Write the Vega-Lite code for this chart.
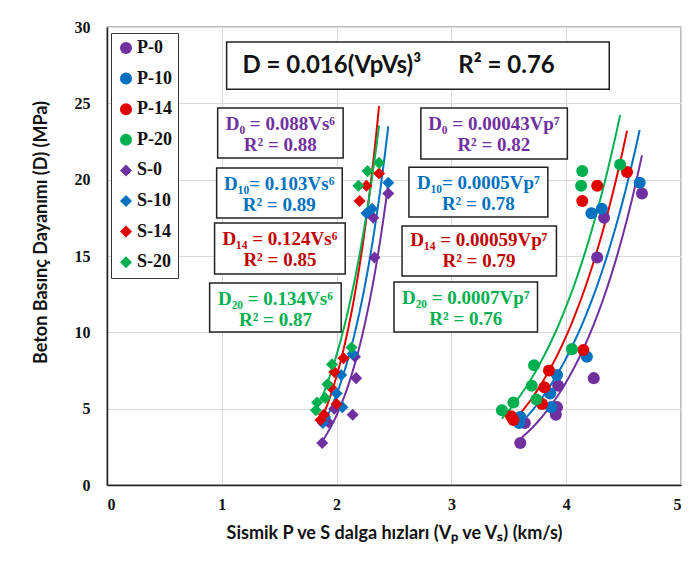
{
  "$schema": "https://vega.github.io/schema/vega-lite/v6.json",
  "width": 574,
  "height": 458,
  "autosize": "none",
  "padding": {"left": 107, "top": 27, "right": 13, "bottom": 82},
  "background": "white",
  "config": {
    "view": {"stroke": "#a6a6a6", "strokeWidth": 1.5},
    "axis": {
      "grid": true,
      "gridColor": "#d9d9d9",
      "gridWidth": 1,
      "ticks": false,
      "domainColor": "#222222",
      "domainWidth": 1.5,
      "labelFont": "Liberation Serif",
      "labelFontWeight": "bold",
      "labelFontSize": 16,
      "labelColor": "#111111",
      "titleFont": "Lato",
      "titleFontWeight": "bold",
      "titleFontSize": 18,
      "titleColor": "#111111"
    },
    "legend": {
      "orient": "none",
      "legendX": 4,
      "legendY": 6,
      "strokeColor": "#333333",
      "fillColor": "white",
      "padding": 6,
      "rowPadding": 12.6,
      "labelFont": "Liberation Serif",
      "labelFontWeight": "bold",
      "labelFontSize": 18,
      "labelColor": "#111111",
      "labelOffset": 2,
      "symbolStrokeWidth": 0
    }
  },
  "datasets": {
    "pts": [
      {"series": "P-0", "v": 3.60, "D": 2.75},
      {"series": "P-0", "v": 3.64, "D": 4.06},
      {"series": "P-0", "v": 3.91, "D": 4.6},
      {"series": "P-0", "v": 3.92, "D": 5.1},
      {"series": "P-0", "v": 3.93, "D": 6.5},
      {"series": "P-0", "v": 4.24, "D": 7.0},
      {"series": "P-0", "v": 4.27, "D": 14.9},
      {"series": "P-0", "v": 4.33, "D": 17.5},
      {"series": "P-0", "v": 4.66, "D": 19.1},
      {"series": "P-10", "v": 3.59, "D": 4.06},
      {"series": "P-10", "v": 3.60, "D": 4.45},
      {"series": "P-10", "v": 3.87, "D": 5.1},
      {"series": "P-10", "v": 3.86, "D": 6.0},
      {"series": "P-10", "v": 3.92, "D": 7.2},
      {"series": "P-10", "v": 4.18, "D": 8.4},
      {"series": "P-10", "v": 4.22, "D": 17.8},
      {"series": "P-10", "v": 4.31, "D": 18.1},
      {"series": "P-10", "v": 4.64, "D": 19.8},
      {"series": "P-14", "v": 3.54, "D": 4.26},
      {"series": "P-14", "v": 3.52, "D": 4.5},
      {"series": "P-14", "v": 3.79, "D": 5.3},
      {"series": "P-14", "v": 3.81, "D": 6.4},
      {"series": "P-14", "v": 3.85, "D": 7.5},
      {"series": "P-14", "v": 4.15, "D": 8.84},
      {"series": "P-14", "v": 4.14, "D": 18.6},
      {"series": "P-14", "v": 4.27, "D": 19.6},
      {"series": "P-14", "v": 4.53, "D": 20.5},
      {"series": "P-20", "v": 3.44, "D": 4.9},
      {"series": "P-20", "v": 3.54, "D": 5.4},
      {"series": "P-20", "v": 3.74, "D": 5.6},
      {"series": "P-20", "v": 3.70, "D": 6.5},
      {"series": "P-20", "v": 3.72, "D": 7.85},
      {"series": "P-20", "v": 4.05, "D": 8.9},
      {"series": "P-20", "v": 4.13, "D": 19.6},
      {"series": "P-20", "v": 4.14, "D": 20.56},
      {"series": "P-20", "v": 4.47, "D": 21.0},
      {"series": "S-0", "v": 1.875, "D": 2.75},
      {"series": "S-0", "v": 1.93, "D": 4.1},
      {"series": "S-0", "v": 2.14, "D": 4.6},
      {"series": "S-0", "v": 1.98, "D": 5.0},
      {"series": "S-0", "v": 2.17, "D": 7.0},
      {"series": "S-0", "v": 2.16, "D": 8.4},
      {"series": "S-0", "v": 2.33, "D": 14.9},
      {"series": "S-0", "v": 2.32, "D": 17.5},
      {"series": "S-0", "v": 2.45, "D": 19.1},
      {"series": "S-10", "v": 1.88, "D": 4.06},
      {"series": "S-10", "v": 1.90, "D": 4.45},
      {"series": "S-10", "v": 2.05, "D": 5.1},
      {"series": "S-10", "v": 2.00, "D": 6.0},
      {"series": "S-10", "v": 2.04, "D": 7.2},
      {"series": "S-10", "v": 2.14, "D": 8.6},
      {"series": "S-10", "v": 2.26, "D": 17.8},
      {"series": "S-10", "v": 2.31, "D": 18.1},
      {"series": "S-10", "v": 2.45, "D": 19.8},
      {"series": "S-14", "v": 1.86, "D": 4.26},
      {"series": "S-14", "v": 1.89, "D": 4.6},
      {"series": "S-14", "v": 2.00, "D": 5.3},
      {"series": "S-14", "v": 1.95, "D": 6.4},
      {"series": "S-14", "v": 1.98, "D": 7.4},
      {"series": "S-14", "v": 2.06, "D": 8.3},
      {"series": "S-14", "v": 2.20, "D": 18.6},
      {"series": "S-14", "v": 2.26, "D": 19.6},
      {"series": "S-14", "v": 2.37, "D": 20.4},
      {"series": "S-20", "v": 1.82, "D": 4.9},
      {"series": "S-20", "v": 1.83, "D": 5.4},
      {"series": "S-20", "v": 1.90, "D": 5.7},
      {"series": "S-20", "v": 1.92, "D": 6.6},
      {"series": "S-20", "v": 1.96, "D": 7.9},
      {"series": "S-20", "v": 2.13, "D": 9.0},
      {"series": "S-20", "v": 2.19, "D": 19.6},
      {"series": "S-20", "v": 2.27, "D": 20.56},
      {"series": "S-20", "v": 2.37, "D": 21.1}
    ],
    "boxes": [
      {"v": 0.964, "v2": 2.057, "D": 24.69, "D2": 21.42},
      {"v": 0.955, "v2": 2.049, "D": 20.76, "D2": 17.49},
      {"v": 0.937, "v2": 2.075, "D": 17.16, "D2": 13.82},
      {"v": 0.894, "v2": 2.040, "D": 13.23, "D2": 10.02},
      {"v": 2.734, "v2": 4.010, "D": 24.69, "D2": 21.35},
      {"v": 2.630, "v2": 3.840, "D": 20.82, "D2": 17.55},
      {"v": 2.570, "v2": 3.915, "D": 16.96, "D2": 13.69},
      {"v": 2.500, "v2": 3.750, "D": 13.29, "D2": 10.02},
      {"v": 1.042, "v2": 4.375, "D": 29.01, "D2": 25.93}
    ],
    "labels": [
      {"grp": "0", "v": 1.51, "D": 23.64, "t": "D₀ = 0.088Vs⁶"},
      {"grp": "0", "v": 1.51, "D": 22.27, "t": "R² = 0.88"},
      {"grp": "10", "v": 1.50, "D": 19.71, "t": "D₁₀= 0.103Vs⁶"},
      {"grp": "10", "v": 1.50, "D": 18.34, "t": "R² = 0.89"},
      {"grp": "14", "v": 1.506, "D": 16.11, "t": "D₁₄ = 0.124Vs⁶"},
      {"grp": "14", "v": 1.506, "D": 14.73, "t": "R² = 0.85"},
      {"grp": "20", "v": 1.467, "D": 12.18, "t": "D₂₀ = 0.134Vs⁶"},
      {"grp": "20", "v": 1.467, "D": 10.81, "t": "R² = 0.87"},
      {"grp": "0", "v": 3.37, "D": 23.64, "t": "D₀ = 0.00043Vp⁷"},
      {"grp": "0", "v": 3.37, "D": 22.27, "t": "R² = 0.82"},
      {"grp": "10", "v": 3.235, "D": 19.78, "t": "D₁₀= 0.0005Vp⁷"},
      {"grp": "10", "v": 3.235, "D": 18.40, "t": "R² = 0.78"},
      {"grp": "14", "v": 3.24, "D": 16.04, "t": "D₁₄ = 0.00059Vp⁷"},
      {"grp": "14", "v": 3.24, "D": 14.67, "t": "R² = 0.79"},
      {"grp": "20", "v": 3.125, "D": 12.25, "t": "D₂₀ = 0.0007Vp⁷"},
      {"grp": "20", "v": 3.125, "D": 10.87, "t": "R² = 0.76"}
    ],
    "main": [
      {"v": 1.18, "D": 27.44, "t": "D = 0.016(VpVs)³"},
      {"v": 3.06, "D": 27.44, "t": "R² = 0.76"}
    ]
  },
  "layer": [
    {
      "data": {"name": "pts"},
      "transform": [
        {"filter": {"field": "series", "oneOf": ["P-0", "S-0"]}},
        {"regression": "D", "on": "v", "method": "pow", "groupby": ["series"]}
      ],
      "mark": {"type": "line", "strokeWidth": 2, "color": "#7030a0"},
      "encoding": {
        "x": {"field": "v", "type": "quantitative"},
        "y": {"field": "D", "type": "quantitative"},
        "detail": {"field": "series", "type": "nominal"}
      }
    },
    {
      "data": {"name": "pts"},
      "transform": [
        {"filter": {"field": "series", "oneOf": ["P-10", "S-10"]}},
        {"regression": "D", "on": "v", "method": "pow", "groupby": ["series"]}
      ],
      "mark": {"type": "line", "strokeWidth": 2, "color": "#0070c0"},
      "encoding": {
        "x": {"field": "v", "type": "quantitative"},
        "y": {"field": "D", "type": "quantitative"},
        "detail": {"field": "series", "type": "nominal"}
      }
    },
    {
      "data": {"name": "pts"},
      "transform": [
        {"filter": {"field": "series", "oneOf": ["P-14", "S-14"]}},
        {"regression": "D", "on": "v", "method": "pow", "groupby": ["series"]}
      ],
      "mark": {"type": "line", "strokeWidth": 2, "color": "#e00000"},
      "encoding": {
        "x": {"field": "v", "type": "quantitative"},
        "y": {"field": "D", "type": "quantitative"},
        "detail": {"field": "series", "type": "nominal"}
      }
    },
    {
      "data": {"name": "pts"},
      "transform": [
        {"filter": {"field": "series", "oneOf": ["P-20", "S-20"]}},
        {"regression": "D", "on": "v", "method": "pow", "groupby": ["series"]}
      ],
      "mark": {"type": "line", "strokeWidth": 2, "color": "#00b050"},
      "encoding": {
        "x": {"field": "v", "type": "quantitative"},
        "y": {"field": "D", "type": "quantitative"},
        "detail": {"field": "series", "type": "nominal"}
      }
    },
    {
      "data": {"name": "pts"},
      "mark": {"type": "point", "filled": true, "opacity": 1},
      "encoding": {
        "x": {
          "field": "v",
          "type": "quantitative",
          "scale": {"domain": [0, 5], "nice": false, "zero": true},
          "axis": {
            "values": [0, 1, 2, 3, 4, 5],
            "format": "d",
            "labelPadding": 11,
            "title": "Sismik P ve S dalga hızları (Vₚ ve Vₛ) (km/s)",
            "titlePadding": 12
          }
        },
        "y": {
          "field": "D",
          "type": "quantitative",
          "scale": {"domain": [0, 30], "nice": false},
          "axis": {
            "values": [0, 5, 10, 15, 20, 25, 30],
            "labelPadding": 17,
            "title": "Beton Basınç Dayanımı (D) (MPa)",
            "titlePadding": 24,
            "titleY": 205
          }
        },
        "color": {
          "field": "series",
          "type": "nominal",
          "title": null,
          "scale": {
            "domain": ["P-0", "P-10", "P-14", "P-20", "S-0", "S-10", "S-14", "S-20"],
            "range": ["#7030a0", "#0070c0", "#e00000", "#00b050", "#7030a0", "#0070c0", "#e00000", "#00b050"]
          }
        },
        "shape": {
          "field": "series",
          "type": "nominal",
          "title": null,
          "scale": {
            "domain": ["P-0", "P-10", "P-14", "P-20", "S-0", "S-10", "S-14", "S-20"],
            "range": ["circle", "circle", "circle", "circle", "diamond", "diamond", "diamond", "diamond"]
          }
        },
        "size": {
          "field": "series",
          "type": "nominal",
          "title": null,
          "scale": {
            "domain": ["P-0", "P-10", "P-14", "P-20", "S-0", "S-10", "S-14", "S-20"],
            "range": [145, 145, 145, 145, 190, 190, 190, 190]
          }
        }
      }
    },
    {
      "data": {"name": "boxes"},
      "mark": {"type": "rect", "fill": "white", "stroke": "#222222", "strokeWidth": 1.5},
      "encoding": {
        "x": {"field": "v", "type": "quantitative"},
        "x2": {"field": "v2"},
        "y": {"field": "D", "type": "quantitative"},
        "y2": {"field": "D2"}
      }
    },
    {
      "data": {"name": "labels"},
      "transform": [{"filter": "datum.grp == '0'"}],
      "mark": {"type": "text", "font": "Liberation Serif", "fontWeight": "bold", "fontSize": 19, "align": "center", "baseline": "middle", "color": "#7030a0"},
      "encoding": {
        "x": {"field": "v", "type": "quantitative"},
        "y": {"field": "D", "type": "quantitative"},
        "text": {"field": "t"}
      }
    },
    {
      "data": {"name": "labels"},
      "transform": [{"filter": "datum.grp == '10'"}],
      "mark": {"type": "text", "font": "Liberation Serif", "fontWeight": "bold", "fontSize": 19, "align": "center", "baseline": "middle", "color": "#0070c0"},
      "encoding": {
        "x": {"field": "v", "type": "quantitative"},
        "y": {"field": "D", "type": "quantitative"},
        "text": {"field": "t"}
      }
    },
    {
      "data": {"name": "labels"},
      "transform": [{"filter": "datum.grp == '14'"}],
      "mark": {"type": "text", "font": "Liberation Serif", "fontWeight": "bold", "fontSize": 19, "align": "center", "baseline": "middle", "color": "#c00000"},
      "encoding": {
        "x": {"field": "v", "type": "quantitative"},
        "y": {"field": "D", "type": "quantitative"},
        "text": {"field": "t"}
      }
    },
    {
      "data": {"name": "labels"},
      "transform": [{"filter": "datum.grp == '20'"}],
      "mark": {"type": "text", "font": "Liberation Serif", "fontWeight": "bold", "fontSize": 19, "align": "center", "baseline": "middle", "color": "#00b050"},
      "encoding": {
        "x": {"field": "v", "type": "quantitative"},
        "y": {"field": "D", "type": "quantitative"},
        "text": {"field": "t"}
      }
    },
    {
      "data": {"name": "main"},
      "mark": {"type": "text", "font": "Lato", "fontWeight": "bold", "fontSize": 24, "align": "left", "baseline": "middle", "color": "#111111"},
      "encoding": {
        "x": {"field": "v", "type": "quantitative"},
        "y": {"field": "D", "type": "quantitative"},
        "text": {"field": "t"}
      }
    }
  ]
}
